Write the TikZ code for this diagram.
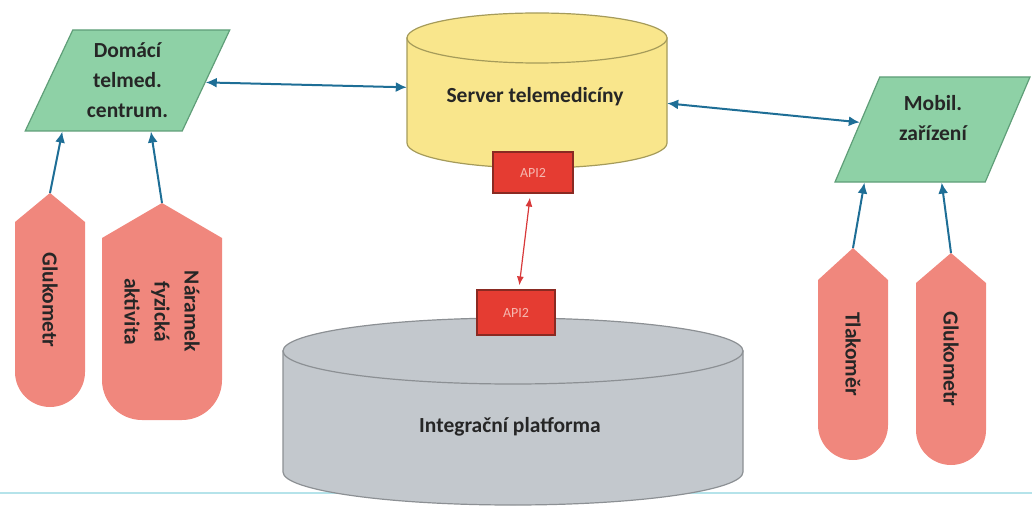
\documentclass[tikz,border=0pt]{standalone}
\usepackage{fontspec}
\setmainfont{Carlito}
\usetikzlibrary{shapes.geometric,arrows.meta,calc}

\definecolor{parafill}{HTML}{8ED1A6}
\definecolor{paraline}{HTML}{5F9E78}
\definecolor{srvfill}{HTML}{F9E68C}
\definecolor{srvline}{HTML}{A59B5A}
\definecolor{intfill}{HTML}{C3C8CD}
\definecolor{intline}{HTML}{8C9094}
\definecolor{apifill}{HTML}{E53C32}
\definecolor{apiline}{HTML}{8A2A22}
\definecolor{apitext}{HTML}{F6B8B0}
\definecolor{sensfill}{HTML}{F0877D}
\definecolor{linkblue}{HTML}{1E6E96}
\definecolor{linkred}{HTML}{D8393A}
\definecolor{rulecyan}{HTML}{B5E3EA}
\definecolor{textgray}{HTML}{262626}

\tikzset{
  lbl/.style={font=\bfseries\fontsize{21.5}{30}\selectfont, text=textgray, align=center},
  para/.style={trapezium, trapezium stretches=true, draw=paraline, fill=parafill,
    line width=1.2pt, lbl},
  cylbody/.style={line width=1.2pt},
  api/.style={rectangle, draw=apiline, fill=apifill, line width=1.2pt, text=apitext,
    font=\fontsize{14}{16}\selectfont},
  sensor/.style={fill=sensfill},
  senstext/.style={lbl, rotate=-90},
  link/.style={draw=linkblue, line width=2pt, -{Latex[length=11pt,width=10pt]}},
  blink/.style={link, {Latex[length=11pt,width=10pt]}-{Latex[length=11pt,width=10pt]}},
  rlink/.style={draw=linkred, line width=1.2pt, {Latex[length=9pt,width=7pt]}-{Latex[length=9pt,width=7pt]},
    shorten <=4pt, shorten >=4pt}
}

% name, cx, top y, bottom y, rx, ry, fill, line
\newcommand\cyl[8]{%
  \filldraw[cylbody, fill=#7, draw=#8] (#2-#5,#3) -- (#2-#5,#4)
    arc[start angle=180,end angle=0,x radius=#5,y radius=#6] -- (#2+#5,#3) -- cycle;
  \filldraw[cylbody, fill=#7, draw=#8] (#2,#3) ellipse[x radius=#5,y radius=#6];
  \node[inner sep=0pt, minimum width={2*#5}, minimum height={#4-#3}] (#1) at (#2,{(#3+#4)/2}) {};
}

% name, left, right, top, shoulder, bottom, radius, text
\newcommand\sensor[8]{%
  \fill[sensor] ({(#2+#3)/2},#4) coordinate (#1-top) -- (#3,#5) -- (#3,#6-#7)
    arc[start angle=0,end angle=90,radius=#7] -- (#2+#7,#6)
    arc[start angle=90,end angle=180,radius=#7] -- (#2,#5) -- cycle;
  \node[senstext] (#1) at ({(#2+#3)/2},{(#4+#6)/2}) {#8};
}

\begin{document}
\begin{tikzpicture}[x=1pt,y=-1pt]
\useasboundingbox (0,0) rectangle (1032,513);

\draw[rulecyan, line width=2pt] (0,493) -- (1032,493);

% cylinders
\cyl{int}{513}{351}{472}{230}{33}{intfill}{intline}
\node[lbl] (intl) at (510,427) {Integrační platforma};
\cyl{srv}{537}{38}{143}{130}{25}{srvfill}{srvline}
\node[lbl] (srvl) at (535,97) {Server telemedicíny};

\node[api] (api1) at (533,172.5) [minimum width=80pt, minimum height=41pt] {API2};
\node[api] (api2) at (516,312.5) [minimum width=78pt, minimum height=45pt] {API2};

% devices
\node[para, trapezium left angle=65, trapezium right angle=115, minimum width=205pt, minimum height=101pt]
  (dom) at (127.5,80.5) {Domácí\\telmed.\\centrum.};
\node[para, trapezium left angle=67, trapezium right angle=113, minimum width=195pt, minimum height=105pt]
  (mob) at (932.5,129.5) {};
\node[lbl] (mobl) at (933,118) {Mobil.\\zařízení};

% sensors
\sensor{glu1}{15}{85}{193}{222}{407}{35}{Glukometr}
\sensor{nar}{102}{222}{203}{238}{420}{40}{Náramek\\fyzická\\aktivita}
\sensor{tla}{818}{888}{248}{280}{460}{35}{Tlakoměr}
\sensor{glu2}{916}{986}{253}{283}{465}{35}{Glukometr}

% connectors
\draw[blink] (dom) -- (srv);
\draw[blink] (srv) -- (mob);
\draw[rlink] (api1) -- (api2);
\draw[link] (glu1-top) -- ($(dom.bottom left corner)!.24!(dom.bottom right corner)$);
\draw[link] (nar-top) -- ($(dom.bottom left corner)!.8!(dom.bottom right corner)$);
\draw[link] (tla-top) -- ($(mob.bottom left corner)!.2!(mob.bottom right corner)$);
\draw[link] (glu2-top) -- ($(mob.bottom left corner)!.71!(mob.bottom right corner)$);
\end{tikzpicture}
\end{document}
